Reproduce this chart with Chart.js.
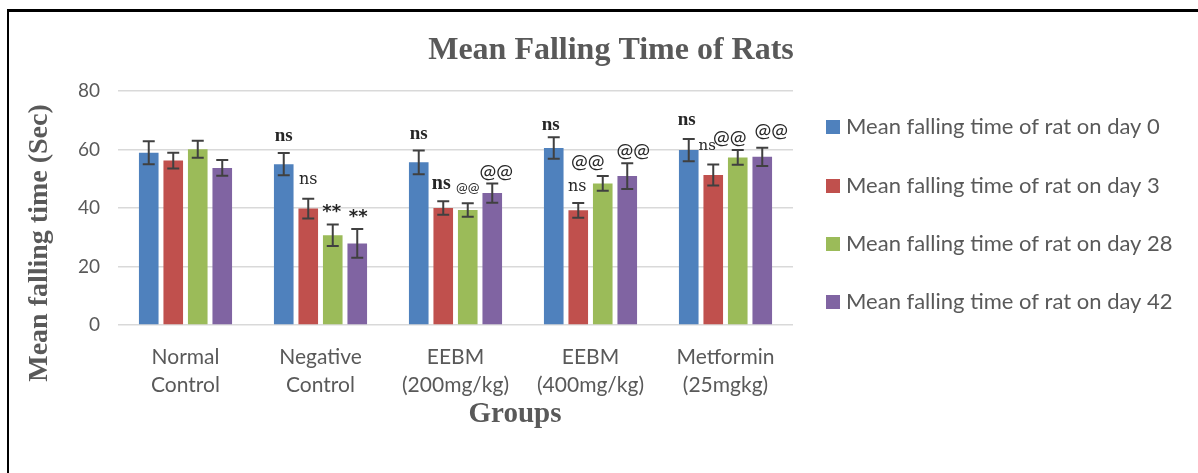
<!DOCTYPE html>
<html>
<head>
<meta charset="utf-8">
<script src="https://cdn.jsdelivr.net/npm/chart.js@4/dist/chart.umd.min.js"></script>
<style>
  html, body { margin: 0; padding: 0; background: #fff; }
  #wrap { position: relative; width: 1198px; height: 473px; overflow: hidden; }
  #frame { position: absolute; left: 7px; top: 9px; width: 1200px; height: 480px; border-left: 2px solid #000; border-top: 3px solid #000; }
  canvas { position: absolute; left: 0; top: 0; }
</style>
</head>
<body>
<div id="wrap">
  <div id="frame"></div>
  <canvas id="c" width="1198" height="473"></canvas>
</div>
<script>
// ---- data ----
const chartTitle = "Mean Falling Time of Rats";
const yAxisTitle = "Mean falling time (Sec)";
const xAxisTitle = "Groups";
const categories = [
  ["Normal", "Control"],
  ["Negative", "Control"],
  ["EEBM", "(200mg/kg)"],
  ["EEBM", "(400mg/kg)"],
  ["Metformin", "(25mgkg)"]
];
const seriesNames = [
  "Mean falling time of rat on day 0",
  "Mean falling time of rat on day 3",
  "Mean falling time of rat on day 28",
  "Mean falling time of rat on day 42"
];
const day0  = [58.9, 55.0, 55.6, 60.5, 59.8];
const day3  = [56.2, 39.8, 40.0, 39.2, 51.3];
const day28 = [60.1, 30.7, 39.3, 48.4, 57.3];
const day42 = [53.7, 27.9, 45.1, 50.9, 57.5];
const err0  = [3.9, 3.8, 4.1, 3.7, 3.8];
const err3  = [2.7, 3.4, 2.3, 2.5, 3.6];
const err28 = [2.9, 3.7, 2.3, 2.5, 2.5];
const err42 = [2.7, 4.9, 3.3, 4.4, 3.1];
const sig0  = ["", "ns", "ns", "ns", "ns"];
const sig3  = ["", "ns", "ns", "ns", "ns"];
const sig28 = ["", "**", "@@", "@@", "@@"];
const sig42 = ["", "**", "@@", "@@", "@@"];
const yTicks = [0, 20, 40, 60, 80];

// ---- styles ----
const colors = ["#4F81BD", "#C0504D", "#9BBB59", "#8064A2"];
const textGray = "#595959";
const FONT_SANS = "Lato, 'Open Sans', sans-serif";
const FONT_SERIF = "'Liberation Serif', 'DejaVu Serif', serif";
const FONT_STAR = "'DejaVu Sans', sans-serif";
// annotation placement (dx, dy from error-bar top) and font per series/group
const annotStyle = [
  [null, {dx:0,dy:-17,f:"bold 19px "+FONT_SERIF}, {dx:0,dy:-16,f:"bold 19px "+FONT_SERIF}, {dx:-3,dy:-12,f:"bold 19px "+FONT_SERIF}, {dx:-2,dy:-19,f:"bold 19px "+FONT_SERIF}],
  [null, {dx:0,dy:-19,f:"16px 'DejaVu Serif', serif"}, {dx:-2,dy:-17,f:"bold 20px "+FONT_SERIF}, {dx:-1,dy:-16,f:"16px 'DejaVu Serif', serif"}, {dx:-6,dy:-18,f:"15px 'DejaVu Serif', serif"}],
  [null, {dx:-1,dy:-12,f:"bold 18px "+FONT_STAR}, {dx:0,dy:-16,f:"14px "+FONT_SANS}, {dx:-15,dy:-15,f:"20px "+FONT_SANS}, {dx:-8,dy:-13,f:"20px "+FONT_SANS}],
  [null, {dx:1,dy:-12,f:"bold 18px "+FONT_STAR}, {dx:4,dy:-12,f:"20px "+FONT_SANS}, {dx:6,dy:-13,f:"20px "+FONT_SANS}, {dx:9,dy:-17,f:"20px "+FONT_SANS}]
];

const values = [day0, day3, day28, day42];
const errors = [err0, err3, err28, err42];
const sigs = [sig0, sig3, sig28, sig42];

const decorPlugin = {
  id: 'decor',
  afterDatasetsDraw(chart) {
    const ctx = chart.ctx;
    const y = chart.scales.y;
    ctx.save();
    chart.data.datasets.forEach((ds, di) => {
      const meta = chart.getDatasetMeta(di);
      meta.data.forEach((bar, i) => {
        const v = values[di][i], e = errors[di][i];
        const x = bar.x;
        const yt = y.getPixelForValue(v + e);
        const yb = y.getPixelForValue(v - e);
        ctx.strokeStyle = "#404040";
        ctx.lineWidth = 2;
        ctx.beginPath();
        ctx.moveTo(x, yt); ctx.lineTo(x, yb);
        ctx.moveTo(x - 6, yt); ctx.lineTo(x + 6, yt);
        ctx.moveTo(x - 6, yb); ctx.lineTo(x + 6, yb);
        ctx.stroke();
        const s = sigs[di][i];
        const st = annotStyle[di][i];
        if (s && st) {
          ctx.fillStyle = "#262626";
          ctx.font = st.f;
          ctx.textAlign = "center";
          ctx.textBaseline = "middle";
          ctx.fillText(s, x + st.dx, yt + st.dy);
        }
      });
    });
    ctx.restore();
  },
  afterDraw(chart) {
    const ctx = chart.ctx;
    const a = chart.chartArea;
    ctx.save();
    ctx.fillStyle = textGray;
    ctx.textAlign = "center";
    ctx.textBaseline = "middle";
    ctx.font = "bold 32px " + FONT_SERIF;
    ctx.fillText(chartTitle, 611, 51);
    ctx.font = "bold 29px " + FONT_SERIF;
    ctx.fillText(xAxisTitle, 515, 415);
    ctx.translate(40, 243);
    ctx.rotate(-Math.PI / 2);
    ctx.font = "bold 28px " + FONT_SERIF;
    ctx.fillText(yAxisTitle, 0, 0);
    ctx.restore();
    // legend
    ctx.save();
    ctx.font = "22px " + FONT_SANS;
    ctx.textAlign = "left";
    ctx.textBaseline = "middle";
    const rows = [127, 186, 244, 302];
    chart.data.datasets.forEach((ds, di) => {
      ctx.fillStyle = ds.backgroundColor;
      ctx.fillRect(a.right + 33, rows[di] - 7, 14, 14);
      ctx.fillStyle = textGray;
      ctx.fillText(ds.label, a.right + 53, rows[di]);
    });
    ctx.restore();
  }
};

new Chart(document.getElementById('c'), {
  type: 'bar',
  data: {
    labels: categories,
    datasets: values.map((vals, di) => ({
      label: seriesNames[di],
      data: vals,
      backgroundColor: colors[di],
      borderWidth: 0,
      categoryPercentage: 0.726,
      barPercentage: 0.8
    }))
  },
  options: {
    responsive: false,
    animation: false,
    devicePixelRatio: 1,
    layout: { padding: { left: 58, top: 91, right: 405, bottom: 48 } },
    plugins: { legend: { display: false }, title: { display: false }, tooltip: { enabled: false } },
    scales: {
      x: {
        grid: { display: false, drawTicks: false },
        border: { display: false },
        ticks: { color: textGray, font: { family: FONT_SANS, size: 21, lineHeight: 1.33 }, padding: 18, maxRotation: 0, autoSkip: false },
        afterFit(s) { s.height = 100; }
      },
      y: {
        min: 0, max: 80,
        afterBuildTicks(s) { s.ticks = yTicks.map(v => ({ value: v })); },
        grid: { color: "#D9D9D9", lineWidth: 1.5, drawTicks: false },
        border: { display: false },
        ticks: { color: textGray, font: { family: FONT_SANS, size: 19 }, padding: 18 },
        afterFit(s) { s.width = 60; }
      }
    }
  },
  plugins: [decorPlugin]
});
</script>
</body>
</html>
